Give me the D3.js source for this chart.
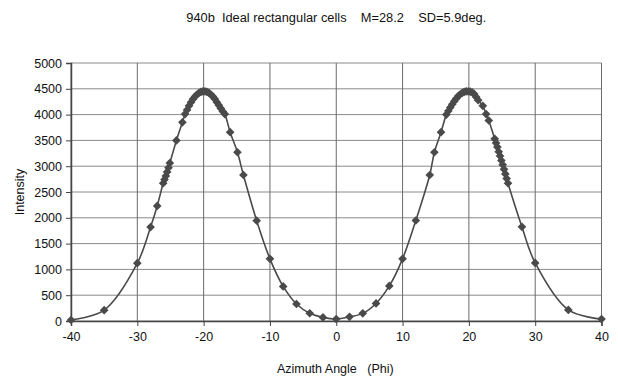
<!DOCTYPE html>
<html>
<head>
<meta charset="utf-8">
<script src="https://cdn.jsdelivr.net/npm/d3@7"></script>
<style>
  body { margin: 0; background: #fff; }
  text { font-family: "Liberation Sans", Arial, sans-serif; fill: #111; white-space: pre; }
</style>
</head>
<body>
<div id="chart"></div>
<script>
// data
const angles = [-40, -35, -30, -28, -27, -26.1, -25.9, -25.7, -25.5, -25.3, -25.1, -24.1, -23.2, -22.8,
    -22.5, -22.2, -21.9, -21.6, -21.3, -21.0, -20.7, -20.4, -20.1, -19.8, -19.5, -19.2, -18.9, -18.6,
    -18.3, -18.0, -17.7, -17.4, -17.1, -16.8, -16.0, -14.9, -14.0, -12.0, -10.0, -8.0, -6.0, -4.0, -2.0,
    0, 2, 4, 6, 8, 10, 12, 14.1, 14.8, 15.8,
    16.6, 16.9, 17.2, 17.5, 17.8, 18.1, 18.4, 18.7, 19.0, 19.3, 19.6, 19.9, 20.2, 20.5, 20.8, 21.1, 21.4,
    22.1, 22.6, 23.0, 23.9, 24.1, 24.3, 24.5, 24.7, 24.9, 25.1, 25.3, 25.5, 25.7, 25.9, 28.0, 30.0, 35.0, 40];
const intensity = [20, 210, 1120, 1820, 2230, 2670, 2740, 2810, 2890, 2970, 3060, 3500, 3850, 4010,
    4090, 4170, 4240, 4300, 4350, 4390, 4420, 4440, 4450, 4450, 4440, 4420, 4390, 4350,
    4300, 4240, 4180, 4120, 4060, 4010, 3660, 3270, 2830, 1945, 1205, 670, 330, 150, 70,
    38, 80, 148, 340, 680, 1205, 1948, 2830, 3270, 3660,
    4000, 4070, 4140, 4200, 4260, 4310, 4360, 4395, 4420, 4440, 4450, 4450, 4445, 4430, 4400, 4340, 4280,
    4170, 4010, 3885, 3530, 3450, 3370, 3280, 3200, 3110, 3030, 2940, 2850, 2760, 2670, 1825, 1125, 215, 38];
const xTicks = [-40, -30, -20, -10, 0, 10, 20, 30, 40];
const yTicks = [0, 500, 1000, 1500, 2000, 2500, 3000, 3500, 4000, 4500, 5000];

const chartTitle = "940b  Ideal rectangular cells    M=28.2    SD=5.9deg.";
const xTitle = "Azimuth Angle   (Phi)";
const yTitle = "Intensity";

const W = 618, H = 379;
const margin = {top: 63, right: 16.5, bottom: 58, left: 71};
const width = W - margin.left - margin.right,
    height = H - margin.top - margin.bottom;

const svg = d3.select("#chart").append("svg")
    .attr("width", W)
    .attr("height", H);

const g = svg.append("g")
    .attr("transform", "translate(" + margin.left + "," + margin.top + ")");

const x = d3.scaleLinear().domain([-40, 40]).range([0, width]);
const y = d3.scaleLinear().domain([0, 5000]).range([height, 0]);

// gridlines
g.selectAll(".hgrid")
    .data(yTicks)
    .enter()
    .append("line")
    .attr("x1", 0).attr("x2", width)
    .attr("y1", d => y(d)).attr("y2", d => y(d))
    .style("stroke", "#8a8a8a")
    .style("stroke-width", 1);

g.selectAll(".vgrid")
    .data(xTicks)
    .enter()
    .append("line")
    .attr("x1", d => x(d)).attr("x2", d => x(d))
    .attr("y1", 0).attr("y2", height)
    .style("stroke", "#6a6a6a")
    .style("stroke-width", 1);

// axes (plain hyphen minus, no thousands separator)
const fmt = d => String(d);
const yAxis = g.append("g")
    .call(d3.axisLeft(y).tickValues(yTicks).tickFormat(fmt).tickSize(5).tickPadding(4));
const xAxis = g.append("g")
    .attr("transform", "translate(0," + height + ")")
    .call(d3.axisBottom(x).tickValues(xTicks).tickFormat(fmt).tickSize(5).tickPadding(6));

[yAxis, xAxis].forEach(a => {
    a.select(".domain").style("stroke", "#444").style("stroke-width", 1.5);
    a.selectAll(".tick line").style("stroke", "#444");
    a.selectAll(".tick text")
        .style("font-size", "12.5px")
        .style("font-family", "'Liberation Sans', Arial, sans-serif")
        .style("fill", "#111");
});

// smoothed line
const line = d3.line()
    .x(d => x(d[0]))
    .y(d => y(d[1]))
    .curve(d3.curveCatmullRom.alpha(0.5));

const pts = angles.map((a, i) => [a, intensity[i]]);

g.append("path")
    .datum(pts)
    .attr("d", line)
    .style("fill", "none")
    .style("stroke", "#4a4a4a")
    .style("stroke-width", 1.6);

// diamond markers
const diamond = d3.symbol().type(d3.symbolDiamond2).size(48);
g.selectAll(".marker")
    .data(pts)
    .enter()
    .append("path")
    .attr("d", diamond)
    .attr("transform", d => "translate(" + x(d[0]) + "," + y(d[1]) + ")")
    .style("fill", "#4a4a4a");

// titles
svg.append("text")
    .attr("x", margin.left + width / 2)
    .attr("y", 22)
    .attr("text-anchor", "middle")
    .style("font-size", "12px")
    .attr("textLength", 300)
    .attr("lengthAdjust", "spacingAndGlyphs")
    .text(chartTitle);

svg.append("text")
    .attr("x", margin.left + width / 2 - 1)
    .attr("y", 373)
    .attr("text-anchor", "middle")
    .style("font-size", "12.5px")
    .text(xTitle);

svg.append("text")
    .attr("transform", "translate(24," + (margin.top + height / 2) + ") rotate(-90)")
    .attr("text-anchor", "middle")
    .style("font-size", "12.5px")
    .text(yTitle);
</script>
</body>
</html>
